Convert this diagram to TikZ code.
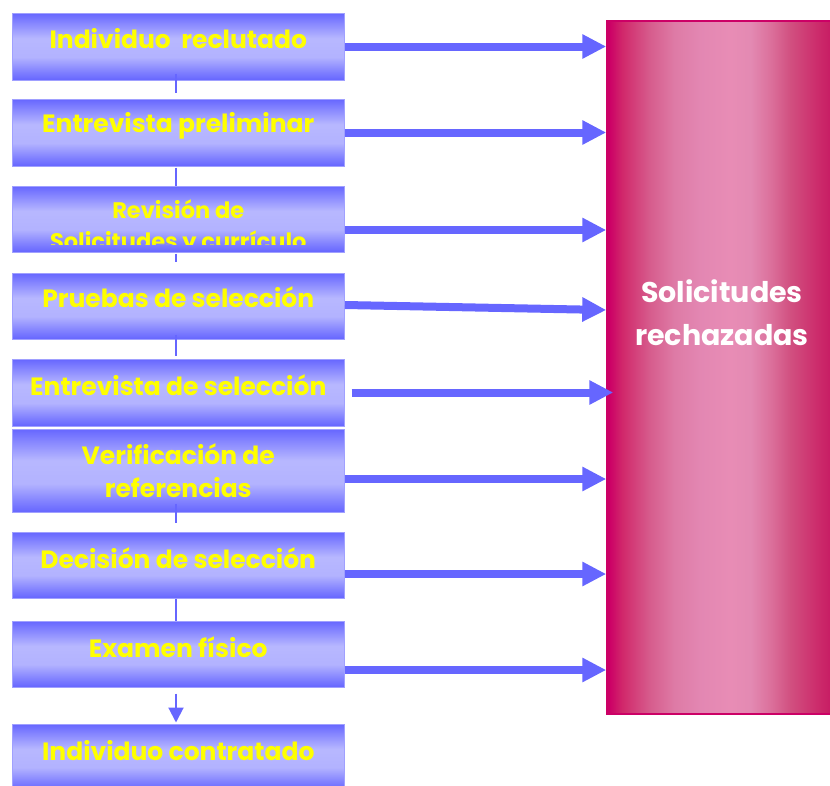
\documentclass[tikz,border=0pt]{standalone}
\usepackage{fontspec}
\setmainfont{Poppins}
\usetikzlibrary{arrows.meta}

\definecolor{flowblue}{HTML}{6666FF}
\definecolor{boxedge}{HTML}{A0A0FF}
\definecolor{rejedge}{HTML}{CC0066}
\definecolor{labelyellow}{HTML}{FFFF00}

% light band across the middle of each step box
\pgfdeclareverticalshading{stepshade}{100bp}{%
  rgb(0bp)=(0.4,0.4,1); rgb(25bp)=(0.4,0.4,1); rgb(31bp)=(0.5,0.5,1);
  rgb(42bp)=(0.70,0.70,1); rgb(56bp)=(0.72,0.72,1); rgb(68bp)=(0.52,0.52,1);
  rgb(75bp)=(0.4,0.4,1); rgb(100bp)=(0.4,0.4,1)}

% pink column with a light centre
\pgfdeclarehorizontalshading{rejshade}{100bp}{%
  rgb(0bp)=(0.80,0.0,0.40); rgb(25.5bp)=(0.80,0.0,0.40); rgb(28.5bp)=(0.82,0.16,0.42);
  rgb(34.5bp)=(0.84,0.36,0.55); rgb(40bp)=(0.87,0.48,0.65); rgb(46bp)=(0.89,0.53,0.70);
  rgb(52.5bp)=(0.91,0.55,0.71); rgb(57bp)=(0.89,0.54,0.70); rgb(61.5bp)=(0.86,0.44,0.61);
  rgb(66bp)=(0.82,0.31,0.50); rgb(72bp)=(0.80,0.17,0.42); rgb(75bp)=(0.78,0.11,0.39);
  rgb(100bp)=(0.78,0.11,0.39)}

\tikzset{
  stepbox/.style={draw=boxedge, line width=1pt, shade, shading=stepshade,
    minimum width=332.5pt, inner sep=0pt},
  boxtext/.style={text=labelyellow, font=\fontsize{25}{33}\selectfont\bfseries,
    align=center, inner sep=0pt},
  rejbox/.style={draw=rejedge, line width=1.5pt, shade, shading=rejshade,
    inner sep=0pt, minimum width=224pt, minimum height=693pt},
  rejtext/.style={text=white, font=\fontsize{28.5}{43}\selectfont\bfseries,
    align=center, inner sep=0pt},
  flow/.style={draw=flowblue, line width=8pt, -{Triangle[length=24pt,width=23pt]}},
  vline/.style={draw=flowblue, line width=2pt},
  varrow/.style={draw=flowblue, line width=2pt, -{Triangle[length=15pt,width=15pt]}},
}

\begin{document}
\begin{tikzpicture}[x=1pt, y=-1pt]
\useasboundingbox (0,0) rectangle (830,785);

% rejected applications column
\node[rejbox] (rej) at (719,367.5) {};
\node[rejtext] (rejlabel) at (722,313) {Solicitudes\\rechazadas};

% the steps of the selection process
\node[stepbox, minimum height=67pt,
  label={[boxtext, yshift=8pt]center:{Individuo~~reclutado}}] (b1) at (178.25,46.5) {};
\node[stepbox, minimum height=67pt,
  label={[boxtext, yshift=7pt]center:{Entrevista preliminar}}] (b2) at (178.25,132.5) {};
\node[stepbox, minimum height=66pt] (b3) at (178.25,219) {};
\begin{scope}
  \clip (12,186) rectangle (345,244);
  \node[boxtext, font=\fontsize{22.5}{31}\selectfont\bfseries] (t3) at (178.25,228)
    {Revisión de\\Solicitudes y currículo};
\end{scope}
\node[stepbox, minimum height=66pt,
  label={[boxtext, yshift=9pt]center:{Pruebas de selección}}] (b4) at (178.25,306) {};
\node[stepbox, minimum height=67pt,
  label={[boxtext, yshift=7pt]center:{Entrevista de selección}}] (b5) at (178.25,392.5) {};
\node[stepbox, minimum height=83pt,
  label={[boxtext, yshift=0pt]center:{Verificación de\\referencias}}] (b6) at (178.25,470.5) {};
\node[stepbox, minimum height=66pt,
  label={[boxtext, yshift=7pt]center:{Decisión de selección}}] (b7) at (178.25,565) {};
\node[stepbox, minimum height=66pt,
  label={[boxtext, yshift=7pt]center:{Examen físico}}] (b8) at (178.25,654) {};
\node[stepbox, minimum height=66pt,
  label={[boxtext, yshift=6pt]center:{Individuo contratado}}] (b9) at (178.25,757) {};

% links down the chain of steps
\draw[vline] ([xshift=-2.25pt,yshift=7pt]b1.south) -- ([xshift=-2.25pt,yshift=6pt]b2.north);
\draw[vline] ([xshift=-2.25pt,yshift=-1pt]b2.south) -- ([xshift=-2.25pt]b3.north);
\draw[vline] ([xshift=-2.25pt,yshift=-1pt]b3.south) -- ([xshift=-2.25pt,yshift=11pt]b4.north);
\draw[vline] ([xshift=-2.25pt,yshift=5pt]b4.south) -- ([xshift=-2.25pt,yshift=3pt]b5.north);
\draw[vline] ([xshift=-2.25pt,yshift=9pt]b6.south) -- ([xshift=-2.25pt,yshift=9pt]b7.north);
\draw[vline] ([xshift=-2.25pt]b7.south) -- ([xshift=-2.25pt]b8.north);
\draw[varrow] ([xshift=-2.25pt,yshift=-6pt]b8.south) -- ([xshift=-2.25pt,yshift=1pt]b9.north);

% rejections from each step
\draw[flow] (b1.east) -- (rej.west |- b1.east);
\draw[flow] (b2.east) -- (rej.west |- b2.east);
\draw[flow] ([yshift=-11pt]b3.east) -- ([yshift=-11pt]rej.west |- b3.east);
\draw[flow] ([yshift=1pt]b4.east) -- ([yshift=-4pt]rej.west |- b4.east);
\draw[flow] ([xshift=6.5pt]b5.east) -- ([xshift=7pt]rej.west |- b5.east);
\draw[flow] ([yshift=-8.5pt]b6.east) -- ([yshift=-8.5pt]rej.west |- b6.east);
\draw[flow] ([yshift=-9pt]b7.east) -- ([yshift=-9pt]rej.west |- b7.east);
\draw[flow] ([yshift=-16pt]b8.east) -- ([yshift=-16pt]rej.west |- b8.east);
\end{tikzpicture}
\end{document}
